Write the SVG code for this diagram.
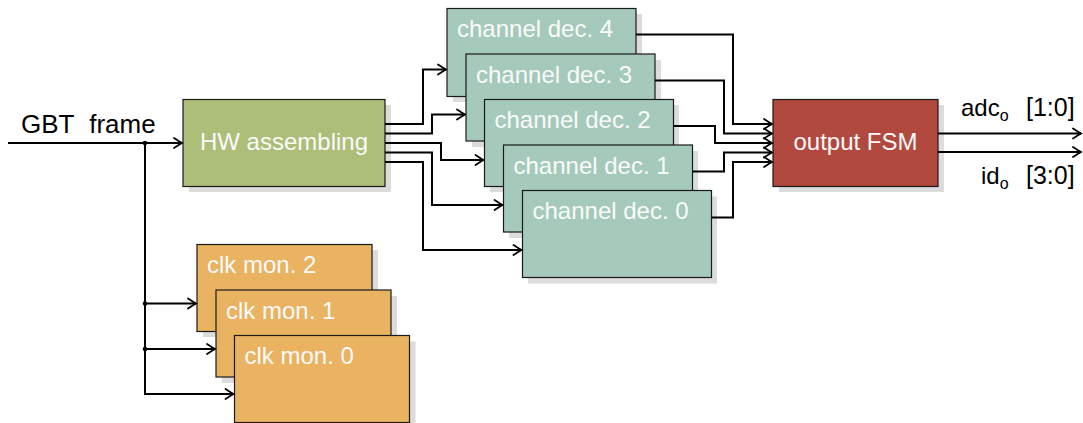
<svg xmlns="http://www.w3.org/2000/svg" width="1083" height="423" viewBox="0 0 1083 423">
<defs>
<marker id="arr" markerUnits="userSpaceOnUse" markerWidth="14" markerHeight="14" viewBox="-11 -7 14 14" refX="0" refY="0" orient="auto">
<path d="M-8,-5 Q-2,-1.2 0,0 Q-2,1.2 -8,5" fill="none" stroke="#000" stroke-width="1.8" stroke-linecap="round"/>
</marker>
</defs>
<style>
.shadow{fill:#dcdcdc}
.box{stroke:#1a1a1a;stroke-width:1.2}
.green{fill:#adbe79}
.teal{fill:#a5cabb}
.red{fill:#b2493e}
.orange{fill:#e9b362}
.in{font-family:"Liberation Sans",Arial,sans-serif;font-size:24px;fill:#fafafa}
.lbl{font-family:"Liberation Sans",Arial,sans-serif;font-size:24px;fill:#000}
.wire{fill:none;stroke:#000;stroke-width:2}
.arrow{marker-end:url(#arr)}
</style>
<rect width="1083" height="423" fill="#fff"/>

<g id="hw">
<rect class="shadow" x="189" y="105" width="202" height="87"/>
<rect class="box green" x="183" y="99.5" width="202" height="87"/>
<text class="in" x="284" y="150" text-anchor="middle">HW assembling</text>
</g>

<g id="ch4">
<rect class="shadow" x="453" y="14" width="189" height="88"/>
<rect class="box teal" x="447" y="8.5" width="189" height="88"/>
<text class="in" x="457" y="37">channel dec. 4</text>
</g>
<g id="ch3">
<rect class="shadow" x="472" y="60" width="189" height="87"/>
<rect class="box teal" x="466" y="54" width="189" height="87"/>
<text class="in" x="476" y="82.5">channel dec. 3</text>
</g>
<g id="ch2">
<rect class="shadow" x="490" y="105" width="189" height="87"/>
<rect class="box teal" x="484.5" y="99.5" width="189" height="87"/>
<text class="in" x="494.5" y="128">channel dec. 2</text>
</g>
<g id="ch1">
<rect class="shadow" x="509" y="151" width="189" height="87"/>
<rect class="box teal" x="503.5" y="145" width="189" height="87"/>
<text class="in" x="513.5" y="173.5">channel dec. 1</text>
</g>
<g id="ch0">
<rect class="shadow" x="528" y="196.5" width="189" height="87"/>
<rect class="box teal" x="522.5" y="190.5" width="189" height="87"/>
<text class="in" x="532.5" y="219">channel dec. 0</text>
</g>

<g id="fsm">
<rect class="shadow" x="779" y="105" width="165" height="87"/>
<rect class="box red" x="773" y="99.5" width="165" height="87"/>
<text class="in" x="855.5" y="149.5" text-anchor="middle">output FSM</text>
</g>

<g id="clk2">
<rect class="shadow" x="203" y="250" width="175" height="87"/>
<rect class="box orange" x="197" y="244.5" width="175" height="87"/>
<text class="in" x="207" y="273">clk mon. 2</text>
</g>
<g id="clk1">
<rect class="shadow" x="222" y="296" width="175" height="87"/>
<rect class="box orange" x="216" y="290" width="175" height="87"/>
<text class="in" x="226" y="318.5">clk mon. 1</text>
</g>
<g id="clk0">
<rect class="shadow" x="240.5" y="341.5" width="175" height="87"/>
<rect class="box orange" x="234.5" y="335.5" width="175" height="87"/>
<text class="in" x="244.5" y="364">clk mon. 0</text>
</g>

<g id="connectors">
<path class="wire arrow" d="M8,143 H182"/>
<path class="wire arrow" d="M145,143 V394 H233.5"/>
<path class="wire arrow" d="M145,303.5 H196"/>
<path class="wire arrow" d="M145,349 H215"/>
<circle cx="145" cy="143" r="2.3"/>
<circle cx="145" cy="303.5" r="2.3"/>
<circle cx="145" cy="349" r="2.3"/>

<path class="wire arrow" d="M385,124 H423 V69.5 H446"/>
<path class="wire arrow" d="M385,133.5 H432 V114.5 H465"/>
<path class="wire arrow" d="M385,143 H441 V160 H483.5"/>
<path class="wire arrow" d="M385,152.5 H432 V205 H502.5"/>
<path class="wire arrow" d="M385,162 H423 V250 H521.5"/>

<path class="wire arrow" d="M636,34.5 H733 V124 H772"/>
<path class="wire arrow" d="M655,80.5 H724 V133.5 H772"/>
<path class="wire arrow" d="M673.5,126 H715 V143 H772"/>
<path class="wire arrow" d="M692.5,171.5 H724 V152.5 H772"/>
<path class="wire arrow" d="M711.5,217.5 H733 V162 H772"/>

<path class="wire arrow" d="M938,133.5 H1081"/>
<path class="wire arrow" d="M938,152 H1081"/>
</g>

<g id="labels">
<text class="lbl" x="21" y="133" style="font-size:26px;word-spacing:8px">GBT frame</text>
<text class="lbl" x="961" y="116">adc<tspan style="font-size:16px" dy="5">o</tspan><tspan dy="-5" x="1026" style="font-size:25px">[1:0]</tspan></text>
<text class="lbl" x="981" y="184">id<tspan style="font-size:16px" dy="5">o</tspan><tspan dy="-5" x="1026" style="font-size:25px">[3:0]</tspan></text>
</g>
</svg>
